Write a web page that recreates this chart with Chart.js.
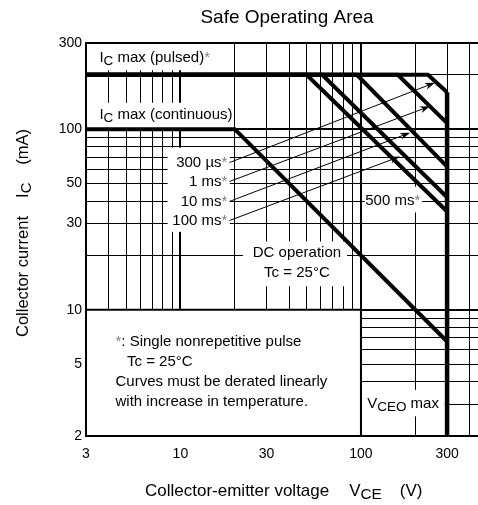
<!DOCTYPE html>
<html>
<head>
<meta charset="utf-8">
<script src="https://cdn.jsdelivr.net/npm/chart.js@4.4.1/dist/chart.umd.min.js"></script>
<style>
html, body { margin: 0; padding: 0; background: #fff; }
#wrap { width: 478px; height: 505px; position: relative; }
</style>
</head>
<body>
<div id="wrap"><canvas id="soa"></canvas></div>
<script>
// Значения сетки и подписи осей (лог. шкалы)
const xGrid = [3, 4, 5, 6, 7, 8, 9, 10, 20, 30, 40, 50, 60, 70, 80, 90, 100, 200, 300, 400];
const xLabels = [3, 10, 30, 100, 300];
const yGrid = [2, 3, 4, 5, 6, 7, 8, 9, 10, 20, 30, 40, 50, 60, 70, 80, 90, 100, 200, 300];
const yLabels = [2, 5, 10, 30, 50, 100, 300];

// Кривые ОБР
const pulseNames = ['300 µs', '1 ms', '10 ms', '100 ms', '500 ms'];
const pulseKneeV = [235, 160, 95, 61, 50];   // V, где кривая уходит с 200 mA
const pulseEndI = [160, 108, 62, 42, 35];    // mA при 300 V
const icMaxPulsed = 200;
const icMaxDC = 100;
const dcKneeV = 20;
const dcEndI = 6.67;
const vceoMax = 300;

// Стрелки от подписей к кривым (V, mA)
const arrowFromV = [18.7, 18.7, 18.7, 18.7];
const arrowFromI = [65.3, 51.3, 39.8, 31.2];
const arrowToV = [257, 241, 187, 164];
const arrowToI = [181, 134, 95.6, 70.5];

const FONT = '"Liberation Sans", Arial, sans-serif';

// Белые подложки под надписями: [V1, V2, I1, I2]
const whiteBoxes = [
    [3, 18.8, 300, 212],
    [3, 18.8, 140, 100],
    [8.5, 18.8, 79, 27],
    [22.2, 83.7, 23.9, 13.5],
    [105, 218, 48, 34.6],
    [101, 291, 3.6, 2.57]
];

// Надписи внутри графика
const notes = [
    { v: 3.56, i: 249, align: 'left', runs: [{ t: 'I' }, { t: 'C', sub: true }, { t: ' max (pulsed)' }, { t: '*', star: true }] },
    { v: 3.56, i: 120, align: 'left', runs: [{ t: 'I' }, { t: 'C', sub: true }, { t: ' max (continuous)' }] },
    { v: 18.2, i: 65.3, align: 'right', runs: [{ t: '300 µs' }, { t: '*', star: true }] },
    { v: 18.2, i: 51.3, align: 'right', runs: [{ t: '1 ms' }, { t: '*', star: true }] },
    { v: 18.2, i: 39.8, align: 'right', runs: [{ t: '10 ms' }, { t: '*', star: true }] },
    { v: 18.2, i: 31.2, align: 'right', runs: [{ t: '100 ms' }, { t: '*', star: true }] },
    { v: 150, i: 40.3, align: 'center', runs: [{ t: '500 ms' }, { t: '*', star: true }] },
    { v: 44.2, i: 20.7, align: 'center', runs: [{ t: 'DC operation' }] },
    { v: 44.2, i: 16.1, align: 'center', runs: [{ t: 'Tc = 25°C' }] },
    { v: 4.37, i: 6.66, align: 'left', runs: [{ t: '*', star: true }, { t: ': Single nonrepetitive pulse' }] },
    { v: 5.06, i: 5.16, align: 'left', runs: [{ t: 'Tc = 25°C' }] },
    { v: 4.37, i: 4.0, align: 'left', runs: [{ t: 'Curves must be derated linearly' }] },
    { v: 4.37, i: 3.1, align: 'left', runs: [{ t: 'with increase in temperature.' }] },
    { v: 171, i: 3.02, align: 'center', runs: [{ t: 'V' }, { t: 'CEO', sub: true }, { t: ' max' }] }
];

function runFont(r, size) {
    const s = r.sub ? size * 0.9 : size;
    return s + 'px ' + FONT;
}

// Рисуем текст с индексами
function drawRuns(ctx, runs, x, y, align, size) {
    let w = 0;
    runs.forEach(r => {
        if (r.gap) { w += r.gap; return; }
        ctx.font = runFont(r, size);
        w += ctx.measureText(r.t).width;
    });
    let cx = align === 'right' ? x - w : align === 'center' ? x - w / 2 : x;
    ctx.textBaseline = 'middle';
    ctx.textAlign = 'left';
    runs.forEach(r => {
        if (r.gap) { cx += r.gap; return; }
        ctx.font = runFont(r, size);
        ctx.fillStyle = r.star ? '#808080' : '#000';
        const dy = r.sub ? size * 0.25 : 0;
        ctx.fillText(r.t, cx, y + dy);
        cx += ctx.measureText(r.t).width;
    });
}

const soaDecor = {
    id: 'soaDecor',
    beforeDatasetsDraw(chart) {
        const { ctx, chartArea: a, scales: { x, y } } = chart;
        ctx.save();
        ctx.beginPath();
        ctx.rect(a.left, a.top, a.right - a.left, a.bottom - a.top);
        ctx.clip();
        ctx.fillStyle = '#fff';
        whiteBoxes.forEach(b => {
            const x1 = x.getPixelForValue(b[0]), x2 = x.getPixelForValue(b[1]);
            const y1 = y.getPixelForValue(b[2]), y2 = y.getPixelForValue(b[3]);
            ctx.fillRect(x1, y1, x2 - x1, y2 - y1);
        });
        // блок с примечанием
        const nx1 = x.getPixelForValue(3), nx2 = x.getPixelForValue(100);
        const ny1 = y.getPixelForValue(10), ny2 = y.getPixelForValue(2);
        ctx.fillRect(nx1, ny1, nx2 - nx1, ny2 - ny1);
        ctx.strokeStyle = '#000';
        ctx.lineWidth = 2;
        ctx.beginPath();
        ctx.moveTo(nx1, ny1);
        ctx.lineTo(nx2, ny1);
        ctx.lineTo(nx2, ny2);
        ctx.stroke();
        ctx.restore();
    },
    afterDatasetsDraw(chart) {
        const { ctx, chartArea: a, scales: { x, y } } = chart;
        ctx.save();
        // рамка
        ctx.strokeStyle = '#000';
        ctx.lineWidth = 2;
        ctx.beginPath();
        ctx.moveTo(a.right, a.top);
        ctx.lineTo(a.left, a.top);
        ctx.lineTo(a.left, a.bottom);
        ctx.lineTo(a.right, a.bottom);
        ctx.stroke();

        // стрелки
        ctx.lineWidth = 1;
        ctx.fillStyle = '#000';
        arrowFromV.forEach((v, k) => {
            const x1 = x.getPixelForValue(v), y1 = y.getPixelForValue(arrowFromI[k]);
            const x2 = x.getPixelForValue(arrowToV[k]), y2 = y.getPixelForValue(arrowToI[k]);
            const ang = Math.atan2(y2 - y1, x2 - x1);
            ctx.beginPath();
            ctx.moveTo(x1, y1);
            ctx.lineTo(x2 - 6 * Math.cos(ang), y2 - 6 * Math.sin(ang));
            ctx.stroke();
            ctx.beginPath();
            ctx.moveTo(x2, y2);
            ctx.lineTo(x2 - 10 * Math.cos(ang) + 3.5 * Math.sin(ang), y2 - 10 * Math.sin(ang) - 3.5 * Math.cos(ang));
            ctx.lineTo(x2 - 7 * Math.cos(ang), y2 - 7 * Math.sin(ang));
            ctx.lineTo(x2 - 10 * Math.cos(ang) - 3.5 * Math.sin(ang), y2 - 10 * Math.sin(ang) + 3.5 * Math.cos(ang));
            ctx.closePath();
            ctx.fill();
        });

        // надписи
        notes.forEach(n => {
            drawRuns(ctx, n.runs, x.getPixelForValue(n.v), y.getPixelForValue(n.i), n.align, 15);
        });
        ctx.restore();
    },
    afterDraw(chart) {
        const { ctx } = chart;
        ctx.save();
        // заголовок
        ctx.font = '19px ' + FONT;
        ctx.fillStyle = '#000';
        ctx.textAlign = 'center';
        ctx.textBaseline = 'middle';
        ctx.fillText('Safe Operating Area', 287, 18);

        // подпись оси X
        drawRuns(ctx, [
            { t: 'Collector-emitter voltage' }, { gap: 20 },
            { t: 'V' }, { t: 'CE', sub: true }, { gap: 18 }, { t: '(V)' }
        ], 145, 491, 'left', 17);

        // подпись оси Y
        ctx.translate(23, 337);
        ctx.rotate(-Math.PI / 2);
        drawRuns(ctx, [
            { t: 'Collector current' }, { gap: 18 },
            { t: 'I' }, { t: 'C', sub: true }, { gap: 18 }, { t: '(mA)' }
        ], 0, 0, 'left', 16.5);
        ctx.restore();
    }
};

// Наборы данных
const lineStyle = {
    borderColor: '#000',
    borderWidth: 4,
    pointRadius: 0,
    showLine: true,
    fill: false,
    borderJoinStyle: 'miter',
    borderCapStyle: 'butt'
};

const datasets = pulseNames.map((name, i) => ({
    ...lineStyle,
    label: name,
    data: [
        { x: 3, y: icMaxPulsed },
        { x: pulseKneeV[i], y: icMaxPulsed },
        { x: vceoMax, y: pulseEndI[i] }
    ]
}));

datasets.push({
    ...lineStyle,
    label: 'DC',
    data: [
        { x: 3, y: icMaxDC },
        { x: dcKneeV, y: icMaxDC },
        { x: vceoMax, y: dcEndI }
    ]
});

datasets.push({
    ...lineStyle,
    label: 'VCEO max',
    borderWidth: 4.5,
    data: [
        { x: vceoMax, y: pulseEndI[0] },
        { x: vceoMax, y: 2 }
    ]
});

const gridWidth = (ctx) => (ctx.tick && (ctx.tick.value === 10 || ctx.tick.value === 100)) ? 2 : 1;

new Chart(document.getElementById('soa'), {
    type: 'scatter',
    data: { datasets: datasets },
    options: {
        responsive: true,
        maintainAspectRatio: false,
        animation: false,
        layout: { padding: { top: 43, left: 0, right: 0, bottom: 0 } },
        plugins: {
            legend: { display: false },
            tooltip: { enabled: false },
            title: { display: false }
        },
        scales: {
            x: {
                type: 'logarithmic',
                min: 3,
                max: 445,
                afterBuildTicks: (scale) => { scale.ticks = xGrid.map(v => ({ value: v })); },
                afterFit: (scale) => { scale.height = 69; scale.paddingLeft = 0; scale.paddingRight = 0; },
                grid: { color: '#000', lineWidth: gridWidth, drawTicks: false },
                border: { display: false },
                ticks: {
                    autoSkip: false,
                    maxRotation: 0,
                    padding: 10,
                    color: '#000',
                    font: { family: FONT, size: 14 },
                    callback: (v) => xLabels.includes(v) ? String(v) : ''
                }
            },
            y: {
                type: 'logarithmic',
                min: 2,
                max: 300,
                afterBuildTicks: (scale) => { scale.ticks = yGrid.map(v => ({ value: v })); },
                afterFit: (scale) => { scale.width = 86; },
                grid: { color: '#000', lineWidth: gridWidth, drawTicks: false },
                border: { display: false },
                ticks: {
                    autoSkip: false,
                    padding: 4,
                    color: '#000',
                    font: { family: FONT, size: 14 },
                    callback: (v) => yLabels.includes(v) ? String(v) : ''
                }
            }
        }
    },
    plugins: [soaDecor]
});
</script>
</body>
</html>
